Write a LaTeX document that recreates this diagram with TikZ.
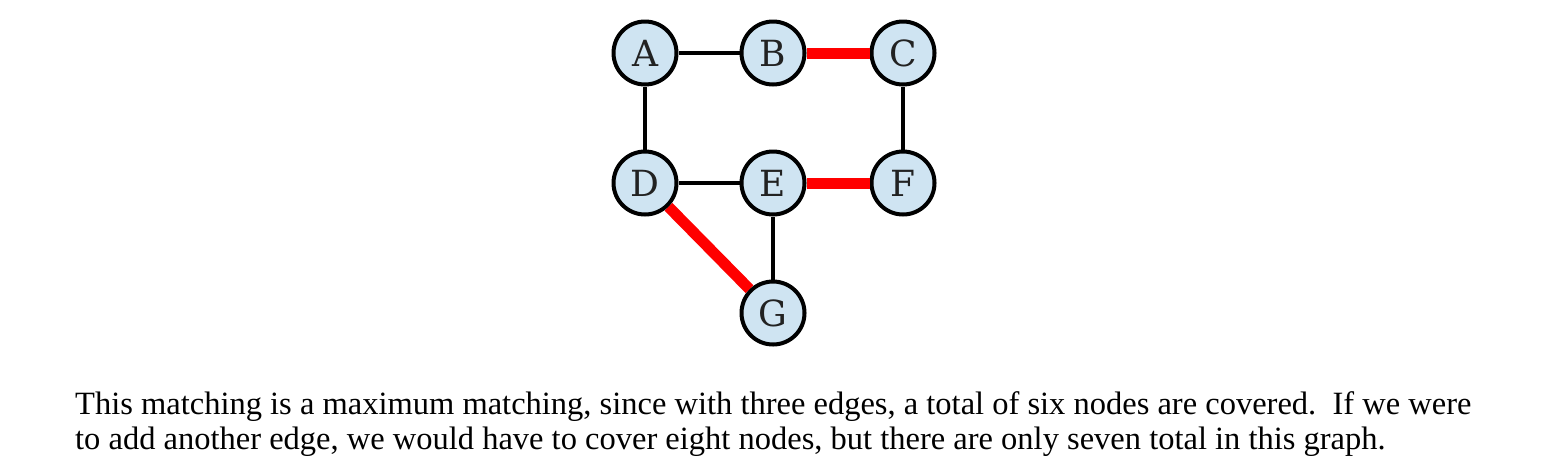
\documentclass[tikz,border=0pt]{standalone}
\usepackage{fontspec}
\setmainfont{Liberation Serif}
\newfontfamily\nodefont{DejaVu Serif}
\definecolor{nodefill}{RGB}{207,228,242}
\definecolor{labelcol}{RGB}{34,34,34}
\begin{document}
\begin{tikzpicture}[x=1pt,y=-1pt,
  vert/.style={circle,draw=black,line width=4pt,fill=nodefill,minimum size=63pt,inner sep=0pt,
    font=\nodefont\fontsize{36}{38}\selectfont,text=labelcol},
  plain/.style={draw=black,line width=3.6pt},
  matched/.style={draw=red,line width=11pt}]
\useasboundingbox (0,0) rectangle (1563,475);
\node[vert] (A) at (645,53) {A};
\node[vert] (B) at (773,53) {B};
\node[vert] (C) at (903,53) {C};
\node[vert] (D) at (645,183) {D};
\node[vert] (E) at (773,183) {E};
\node[vert] (F) at (903,183) {F};
\node[vert] (G) at (773,313) {G};
\draw[plain] (A) -- (B);
\draw[plain] (A) -- (D);
\draw[plain] (C) -- (F);
\draw[plain] (D) -- (E);
\draw[plain] (E) -- (G);
\draw[matched] (B) -- (C);
\draw[matched] (E) -- (F);
\draw[matched] (D) -- (G);
\node[anchor=base west,inner sep=0pt,align=left,font=\fontsize{32.5}{35}\selectfont] (txt) at (75,449)
 {This matching is a maximum matching, since with three edges, a total of six nodes are covered.\ \ If we were\\
 to add another edge, we would have to cover eight nodes, but there are only seven total in this graph.};
\end{tikzpicture}
\end{document}
